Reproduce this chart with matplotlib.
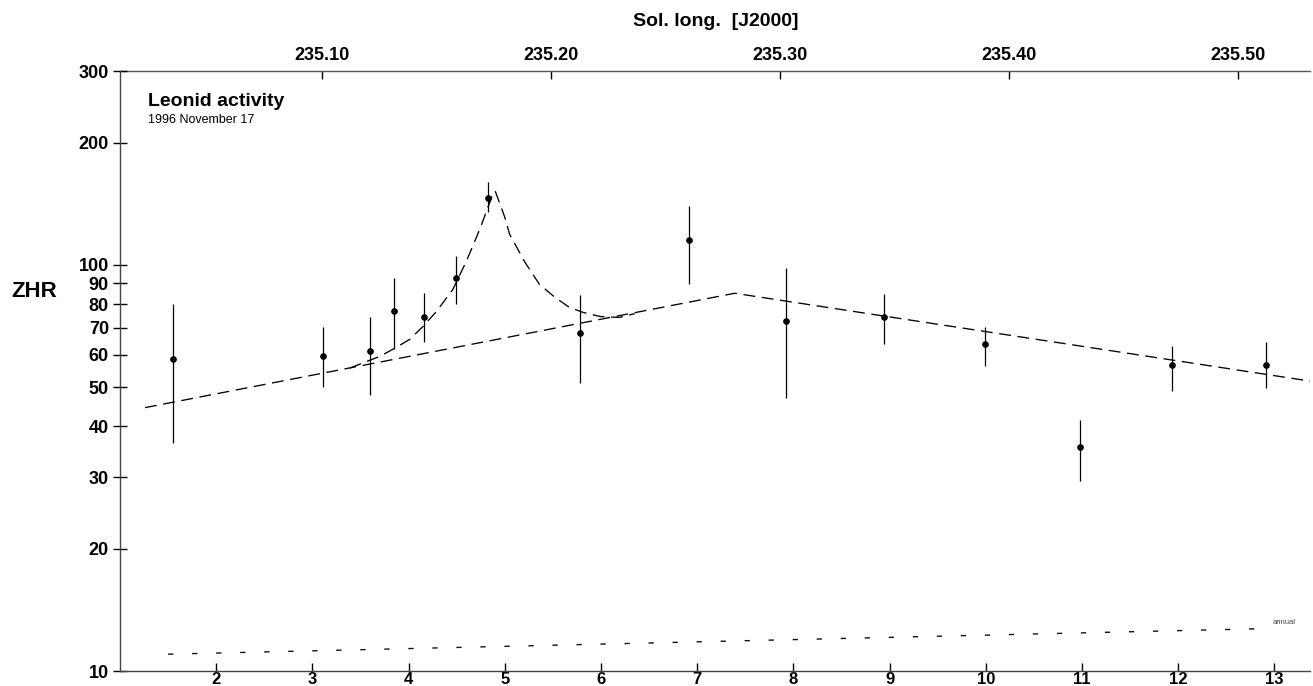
import numpy as np
import matplotlib
matplotlib.use("Agg")
import matplotlib.pyplot as plt
from matplotlib.ticker import FixedLocator, NullLocator, FixedFormatter

plt.rcParams['font.family'] = ['Liberation Sans', 'DejaVu Sans']

# observed ZHR, 1996 Nov 17 (x = UT hours)
hours = [1.55, 3.11, 3.60, 3.85, 4.16, 4.49, 4.83, 5.78, 6.91, 7.92, 8.94, 9.99, 10.98, 11.94, 12.91]
zhr = [58.5, 59.8, 61.2, 76.8, 74.2, 92.6, 145.9, 67.8, 114.9, 72.9, 74.2, 64.0, 35.7, 56.8, 56.8]
zhr_hi = [79.9, 70.1, 74.2, 92.6, 85.1, 105.0, 159.8, 84.1, 139.4, 98.0, 84.6, 70.1, 41.6, 63.0, 64.4]
zhr_lo = [36.5, 49.9, 47.7, 61.9, 64.4, 79.9, 134.7, 51.3, 89.5, 46.9, 63.7, 56.5, 29.3, 48.8, 49.6]

# background activity (two straight segments)
bg_hours = [1.26, 7.39, 13.40]
bg_zhr = [44.5, 85.1, 51.6]

# outburst on top of the background
peak_hours = [3.39, 3.70, 3.85, 4.01, 4.15, 4.29, 4.46, 4.60, 4.74, 4.87, 4.90,
              5.00, 5.05, 5.21, 5.36, 5.52, 5.67, 5.81, 5.99, 6.19, 6.35]
peak_zhr = [55.7, 59.5, 62.2, 65.5, 70.5, 76.8, 87.0, 102.0, 122.3, 148.0, 152.0,
            130.9, 118.9, 101.4, 89.5, 83.2, 78.6, 76.4, 74.6, 74.2, 75.8]

# annual shower level
annual_hours = [1.50, 12.80]
annual_zhr = [11.0, 12.7]

y_ticks = [10, 20, 30, 40, 50, 60, 70, 80, 90, 100, 200, 300]
x_ticks = [2, 3, 4, 5, 6, 7, 8, 9, 10, 11, 12, 13]
sol_ticks = [235.10, 235.20, 235.30, 235.40, 235.50]


def h2sol(h):
    return 235.10 + (np.asarray(h) - 3.095) * 0.04201


def sol2h(s):
    return 3.095 + (np.asarray(s) - 235.10) / 0.04201


W, H = 1313, 686
fig = plt.figure(figsize=(W / 100, H / 100), dpi=100)
ax = fig.add_axes([120 / W, 15 / H, (1310 - 120) / W, (671 - 71) / H])

ax.set_yscale('log')
ax.set_ylim(10, 300)
ax.set_xlim(1.0, 13.37)

yerr = [np.array(zhr) - np.array(zhr_lo), np.array(zhr_hi) - np.array(zhr)]
ax.errorbar(hours, zhr, yerr=yerr, fmt='o', ms=3.8, color='black',
            ecolor='black', elinewidth=0.9, capsize=0, zorder=3)

ax.plot(bg_hours, bg_zhr, color='black', lw=0.95, dashes=(9, 5))
ax.plot(peak_hours, peak_zhr, color='black', lw=0.95, dashes=(9, 5))
ax.plot(annual_hours, annual_zhr, color='#111111', lw=1.0, dashes=(3.8, 13.5))
ax.text(13.1, 13.2, 'annual', fontsize=5.5, color='#444444', ha='center', va='center')

# left axis
ax.yaxis.set_major_locator(FixedLocator(y_ticks))
ax.yaxis.set_major_formatter(FixedFormatter([str(v) for v in y_ticks]))
ax.yaxis.set_minor_locator(NullLocator())
ax.tick_params(axis='y', direction='inout', length=10, width=1, pad=3,
               labelsize=13)
for lab in ax.get_yticklabels():
    lab.set_fontweight('bold')

# bottom axis (UT)
ax.set_xticks(x_ticks)
ax.set_xticklabels([str(v) for v in x_ticks], fontweight='bold')
ax.xaxis.set_minor_locator(NullLocator())
ax.tick_params(axis='x', direction='in', length=6, width=1, pad=1, labelsize=12)

for side in ['top', 'right']:
    ax.spines[side].set_visible(False)
for side in ['left', 'bottom']:
    ax.spines[side].set_color('#444444')
    ax.spines[side].set_linewidth(1)

# top axis (solar longitude)
sec = ax.secondary_xaxis('top', functions=(h2sol, sol2h))
sec.set_xticks(sol_ticks)
sec.set_xticklabels(['%.2f' % v for v in sol_ticks], fontweight='bold')
sec.xaxis.set_minor_locator(NullLocator())
sec.tick_params(direction='in', length=6, width=1, pad=5, labelsize=13)
sec.spines['top'].set_color('#555555')
sec.spines['top'].set_linewidth(1)

fig.text(716 / W, 1 - 22 / H, 'Sol. long.  [J2000]', ha='center', va='center',
         fontsize=14, fontweight='bold')
fig.text(34 / W, 1 - 292 / H, 'ZHR', ha='center', va='center',
         fontsize=16, fontweight='bold')
fig.text(148 / W, 1 - 101 / H, 'Leonid activity', ha='left', va='center',
         fontsize=14, fontweight='bold')
fig.text(148 / W, 1 - 120 / H, '1996 November 17', ha='left', va='center',
         fontsize=9)

fig.savefig('out.png', dpi=100)
